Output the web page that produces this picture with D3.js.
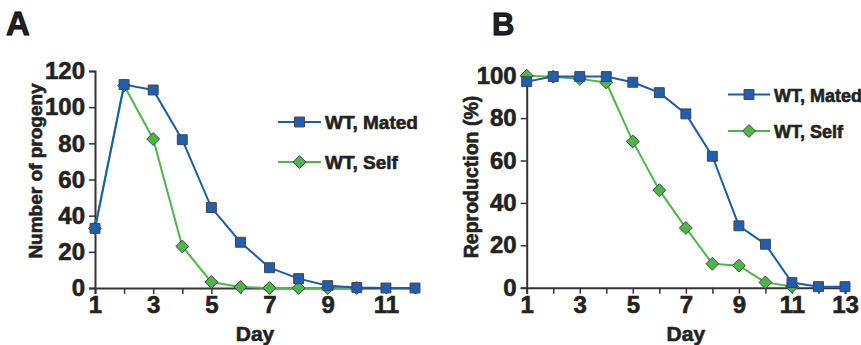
<!DOCTYPE html>
<html><head><meta charset="utf-8">
<script src="https://cdn.jsdelivr.net/npm/d3@7"></script>
<style>
body{margin:0;background:#fff;}
text{font-family:"Liberation Sans",Arial,sans-serif;font-weight:bold;fill:#222;}
.thick{stroke:#222;stroke-width:0.6px;}
</style></head>
<body><svg id="c" width="861" height="345"></svg>
<script>
// Panel A data
const daysA = [1,2,3,4,5,6,7,8,9,10,11,12];
const matedA = [33,112.5,109.5,82,44.5,25.3,11.2,5.2,1.3,0.3,0,0];
const daysSelfA = [1,2,3,4,5,6,7,8,9,10];
const selfA = [33,112,82.4,23,3.3,0.6,0,0,0,0];
const yTicksA = [0,20,40,60,80,100,120];
const xLabelsA = [1,3,5,7,9,11];
// Panel B data
const daysB = [1,2,3,4,5,6,7,8,9,10,11,12,13];
const matedB = [97.2,99.6,99.6,99.6,96.9,92,82,62,29.2,20.5,2.4,0.5,0.5];
const daysSelfB = [1,2,3,4,5,6,7,8,9,10,11];
const selfB = [100,99.5,98.5,96.8,69,46,28.2,11.3,10.4,2.5,0.6];
const yTicksB = [0,20,40,60,80,100];
const xLabelsB = [1,3,5,7,9,11,13];
const seriesNames = ["WT, Mated","WT, Self"];

const blue="#1b5caa", blueFill="#1f5fb3", green="#4fb648", greenFill="#4cb748", axisCol="#333";
const svg=d3.select("#c");

function panel(o){
  const g=svg.append("g");
  const x=d3.scaleLinear().domain(o.xDomain).range(o.xRange);
  const y=d3.scaleLinear().domain(o.yDomain).range(o.yRange);
  const xa=g.append("g").attr("transform",`translate(0,${o.yRange[0]})`)
    .call(d3.axisBottom(x).tickValues(d3.range(o.xDomain[0],o.xDomain[1]+1)).tickSize(6).tickFormat(d=>o.xLabels.includes(d)?d:""));
  xa.select(".domain").attr("stroke",axisCol).attr("stroke-width",2);
  xa.selectAll(".tick line").attr("stroke",axisCol).attr("stroke-width",1.5);
  xa.selectAll(".tick text").attr("font-size",24).attr("dy","0.85em").attr("y",5).attr("fill","#222").attr("class","thick").style("font-weight","bold");
  const ya=g.append("g").attr("transform",`translate(${o.xRange[0]},0)`)
    .call(d3.axisLeft(y).tickValues(o.yTicks).tickSize(6).tickPadding(4));
  ya.select(".domain").attr("stroke",axisCol).attr("stroke-width",2);
  ya.selectAll(".tick line").attr("stroke",axisCol).attr("stroke-width",1.5);
  ya.selectAll(".tick text").attr("font-size",24).attr("fill","#222").attr("class","thick").style("font-weight","bold");
  g.append("text").attr("x",(o.xRange[0]+o.xRange[1])/2).attr("y",341).attr("text-anchor","middle").attr("font-size",21).attr("class","thick").text("Day");
  g.append("text").attr("transform",`translate(${o.yTitleX},${o.yTitleY}) rotate(-90)`).attr("text-anchor","middle").attr("font-size",o.yTitleSize).attr("class","thick").text(o.yTitle);
  g.append("text").attr("x",o.labelX).attr("y",o.labelY).attr("font-size",o.labelSize).style("font-family","'Liberation Sans',Arial,sans-serif").style("font-weight","bold").attr("fill","#000").attr("stroke","#000").attr("stroke-width",0.8).text(o.label);

  const line=d3.line().x(d=>x(d[0])).y(d=>y(d[1]));
  const selfPts=o.selfDays.map((d,i)=>[d,o.self[i]]);
  const matedPts=o.matedDays.map((d,i)=>[d,o.mated[i]]);
  g.append("path").attr("d",line(selfPts)).attr("fill","none").attr("stroke",green).attr("stroke-width",2);
  const diamond=d3.symbol().type(d3.symbolDiamond2).size(105);
  const sq=d3.symbol().type(d3.symbolSquare2).size(125);
  g.selectAll(".sd").data(selfPts).join("path").attr("d",diamond)
    .attr("transform",d=>`translate(${x(d[0])},${y(d[1])})`).attr("fill",greenFill).attr("stroke","#444").attr("stroke-width",1);
  g.append("path").attr("d",line(matedPts)).attr("fill","none").attr("stroke",blue).attr("stroke-width",2);
  g.selectAll(".md").data(matedPts).join("path").attr("d",sq)
    .attr("transform",d=>`translate(${x(d[0])},${y(d[1])})`).attr("fill",blueFill).attr("stroke","#444").attr("stroke-width",1);

  const L=o.legend;
  [[blue,blueFill,sq,L.y1,seriesNames[0]],[green,greenFill,diamond,L.y2,seriesNames[1]]].forEach(([lc,fc,sym,yy,name])=>{
    g.append("line").attr("x1",L.x1).attr("x2",L.x2).attr("y1",yy).attr("y2",yy).attr("stroke",lc).attr("stroke-width",2);
    g.append("path").attr("d",sym).attr("transform",`translate(${(L.x1+L.x2)/2},${yy})`).attr("fill",fc).attr("stroke","#444").attr("stroke-width",1);
    g.append("text").attr("x",L.x2+4).attr("y",yy+7).attr("font-size",L.fs).attr("class","thick").text(name);
  });
}

panel({xDomain:[1,12],xRange:[95,415],yDomain:[0,120],yRange:[288,71],
  xLabels:xLabelsA,yTicks:yTicksA,matedDays:daysA,mated:matedA,selfDays:daysSelfA,self:selfA,
  yTitle:"Number of progeny",yTitleSize:19,yTitleX:42,yTitleY:171,label:"A",labelX:6,labelY:35,labelSize:33,
  legend:{x1:278,x2:321,y1:122,y2:162,fs:19}});
panel({xDomain:[1,13],xRange:[526.7,845],yDomain:[0,100],yRange:[287.7,75.7],
  xLabels:xLabelsB,yTicks:yTicksB,matedDays:daysB,mated:matedB,selfDays:daysSelfB,self:selfB,
  yTitle:"Reproduction (%)",yTitleSize:19.5,yTitleX:478,yTitleY:177,label:"B",labelX:492,labelY:35,labelSize:31,
  legend:{x1:728,x2:770,y1:94.5,y2:131,fs:18}});
</script></body></html>
